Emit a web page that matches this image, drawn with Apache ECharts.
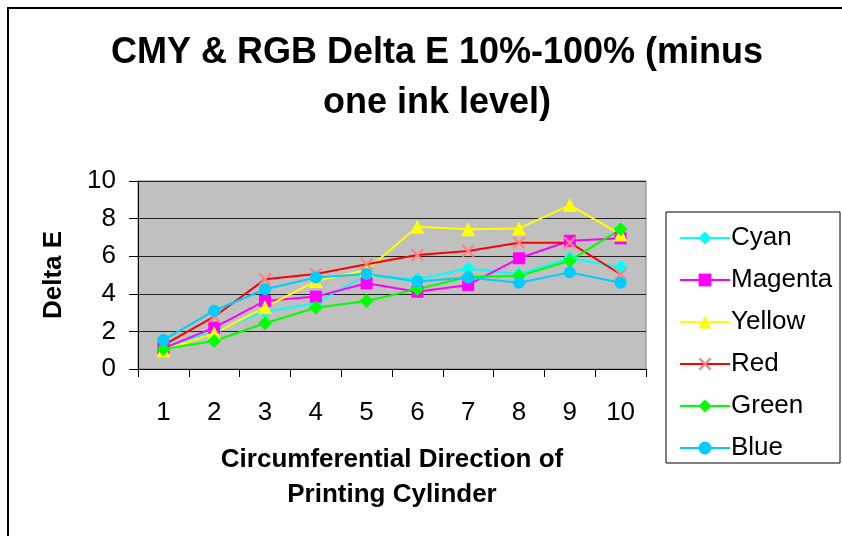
<!DOCTYPE html>
<html><head><meta charset="utf-8">
<script src="https://cdn.jsdelivr.net/npm/echarts@6/dist/echarts.min.js"></script>
<style>html,body{margin:0;padding:0;background:#fff}#c{width:842px;height:536px}</style>
</head><body><div id="c"></div>
<script>
const categories = ['1','2','3','4','5','6','7','8','9','10'];
const cyan    = [1.15, 2.0, 3.05, 3.5, 5.0, 4.77, 5.35, 5.04, 5.89, 5.41];
const magenta = [1.1, 2.2, 3.62, 3.85, 4.56, 4.11, 4.47, 5.89, 6.82, 6.95];
const yellow  = [1.0, 1.9, 3.28, 4.68, 5.27, 7.57, 7.43, 7.48, 8.72, 7.16];
const red     = [1.27, 2.78, 4.77, 5.05, 5.57, 6.06, 6.28, 6.72, 6.72, 5.04];
const green   = [1.06, 1.49, 2.43, 3.26, 3.62, 4.25, 4.91, 4.95, 5.76, 7.43];
const blue    = [1.54, 3.1, 4.24, 4.87, 5.05, 4.65, 4.87, 4.59, 5.14, 4.59];
const yTicks = {min: 0, max: 10, interval: 2};

const FONT = 'Liberation Sans, Arial, sans-serif';
const xMark = 'path://M0,1.2L1.2,0L5,3.8L8.8,0L10,1.2L6.2,5L10,8.8L8.8,10L5,6.2L1.2,10L0,8.8L3.8,5Z';

function s(name, data, line, markColor, symbol, size) {
  return {
    name, type: 'line', data, symbol, symbolSize: size,
    lineStyle: {color: line, width: 2},
    itemStyle: {color: markColor},
    emphasis: {disabled: true}
  };
}

const chart = echarts.init(document.getElementById('c'), null, {renderer: 'canvas'});
chart.setOption({
  animation: false,
  backgroundColor: '#fff',
  textStyle: {fontFamily: FONT, color: '#000'},
  title: {
    text: 'CMY & RGB Delta E 10%-100% (minus\none ink level)',
    left: 432, top: 23, textAlign: 'center',
    textStyle: {fontFamily: FONT, fontSize: 36, fontWeight: 'bold', color: '#000', lineHeight: 50}
  },
  graphic: [
    {type: 'rect', shape: {x: 8, y: 8, width: 900, height: 600}, style: {fill: 'none', stroke: '#000', lineWidth: 2}, z: -1},
    {type: 'rect', shape: {x: 666, y: 212, width: 174, height: 251}, style: {fill: '#fff', stroke: '#000', lineWidth: 1}, z: 0}
  ],
  legend: {
    orient: 'vertical', left: 674, top: 220, itemGap: 16,
    itemWidth: 50, itemHeight: 16,
    textStyle: {fontFamily: FONT, fontSize: 26, color: '#000', padding: [0,0,0,-4]},
    data: ['Cyan','Magenta','Yellow','Red','Green','Blue']
  },
  grid: {left: 138, right: 196, top: 181, bottom: 167, show: true, backgroundColor: '#C0C0C0', borderColor: '#808080', borderWidth: 1},
  xAxis: {
    type: 'category', data: categories, boundaryGap: true,
    name: 'Circumferential Direction of\nPrinting Cylinder', nameLocation: 'middle', nameGap: 73,
    nameTextStyle: {fontFamily: FONT, fontSize: 26, fontWeight: 'bold', color: '#000', lineHeight: 35},
    axisLine: {lineStyle: {color: '#000', width: 1}},
    axisTick: {show: true, interval: 0, length: 8, lineStyle: {color: '#000'}},
    axisLabel: {fontFamily: FONT, fontSize: 26, color: '#000', margin: 31, interval: 0}
  },
  yAxis: {
    type: 'value', min: yTicks.min, max: yTicks.max, interval: yTicks.interval,
    name: 'Delta E', nameLocation: 'middle', nameGap: 71, nameRotate: 90,
    nameTextStyle: {fontFamily: FONT, fontSize: 26, fontWeight: 'bold', color: '#000'},
    axisLine: {show: true, lineStyle: {color: '#000', width: 1}},
    axisTick: {show: true, length: 9, lineStyle: {color: '#000'}},
    axisLabel: {fontFamily: FONT, fontSize: 26, color: '#000', margin: 22},
    splitLine: {show: true, lineStyle: {color: '#222', width: 1}}
  },
  series: [
    s('Cyan', cyan, '#00FFFF', '#00FFFF', 'diamond', 14),
    s('Magenta', magenta, '#FF00FF', '#FF00FF', 'rect', 12),
    s('Yellow', yellow, '#FFFF00', '#FFFF00', 'triangle', 14),
    s('Red', red, '#FF0000', '#FF8080', xMark, 13),
    s('Green', green, '#00FF00', '#00FF00', 'diamond', 14),
    s('Blue', blue, '#00CCFF', '#00CCFF', 'circle', 12)
  ]
});
</script></body></html>
